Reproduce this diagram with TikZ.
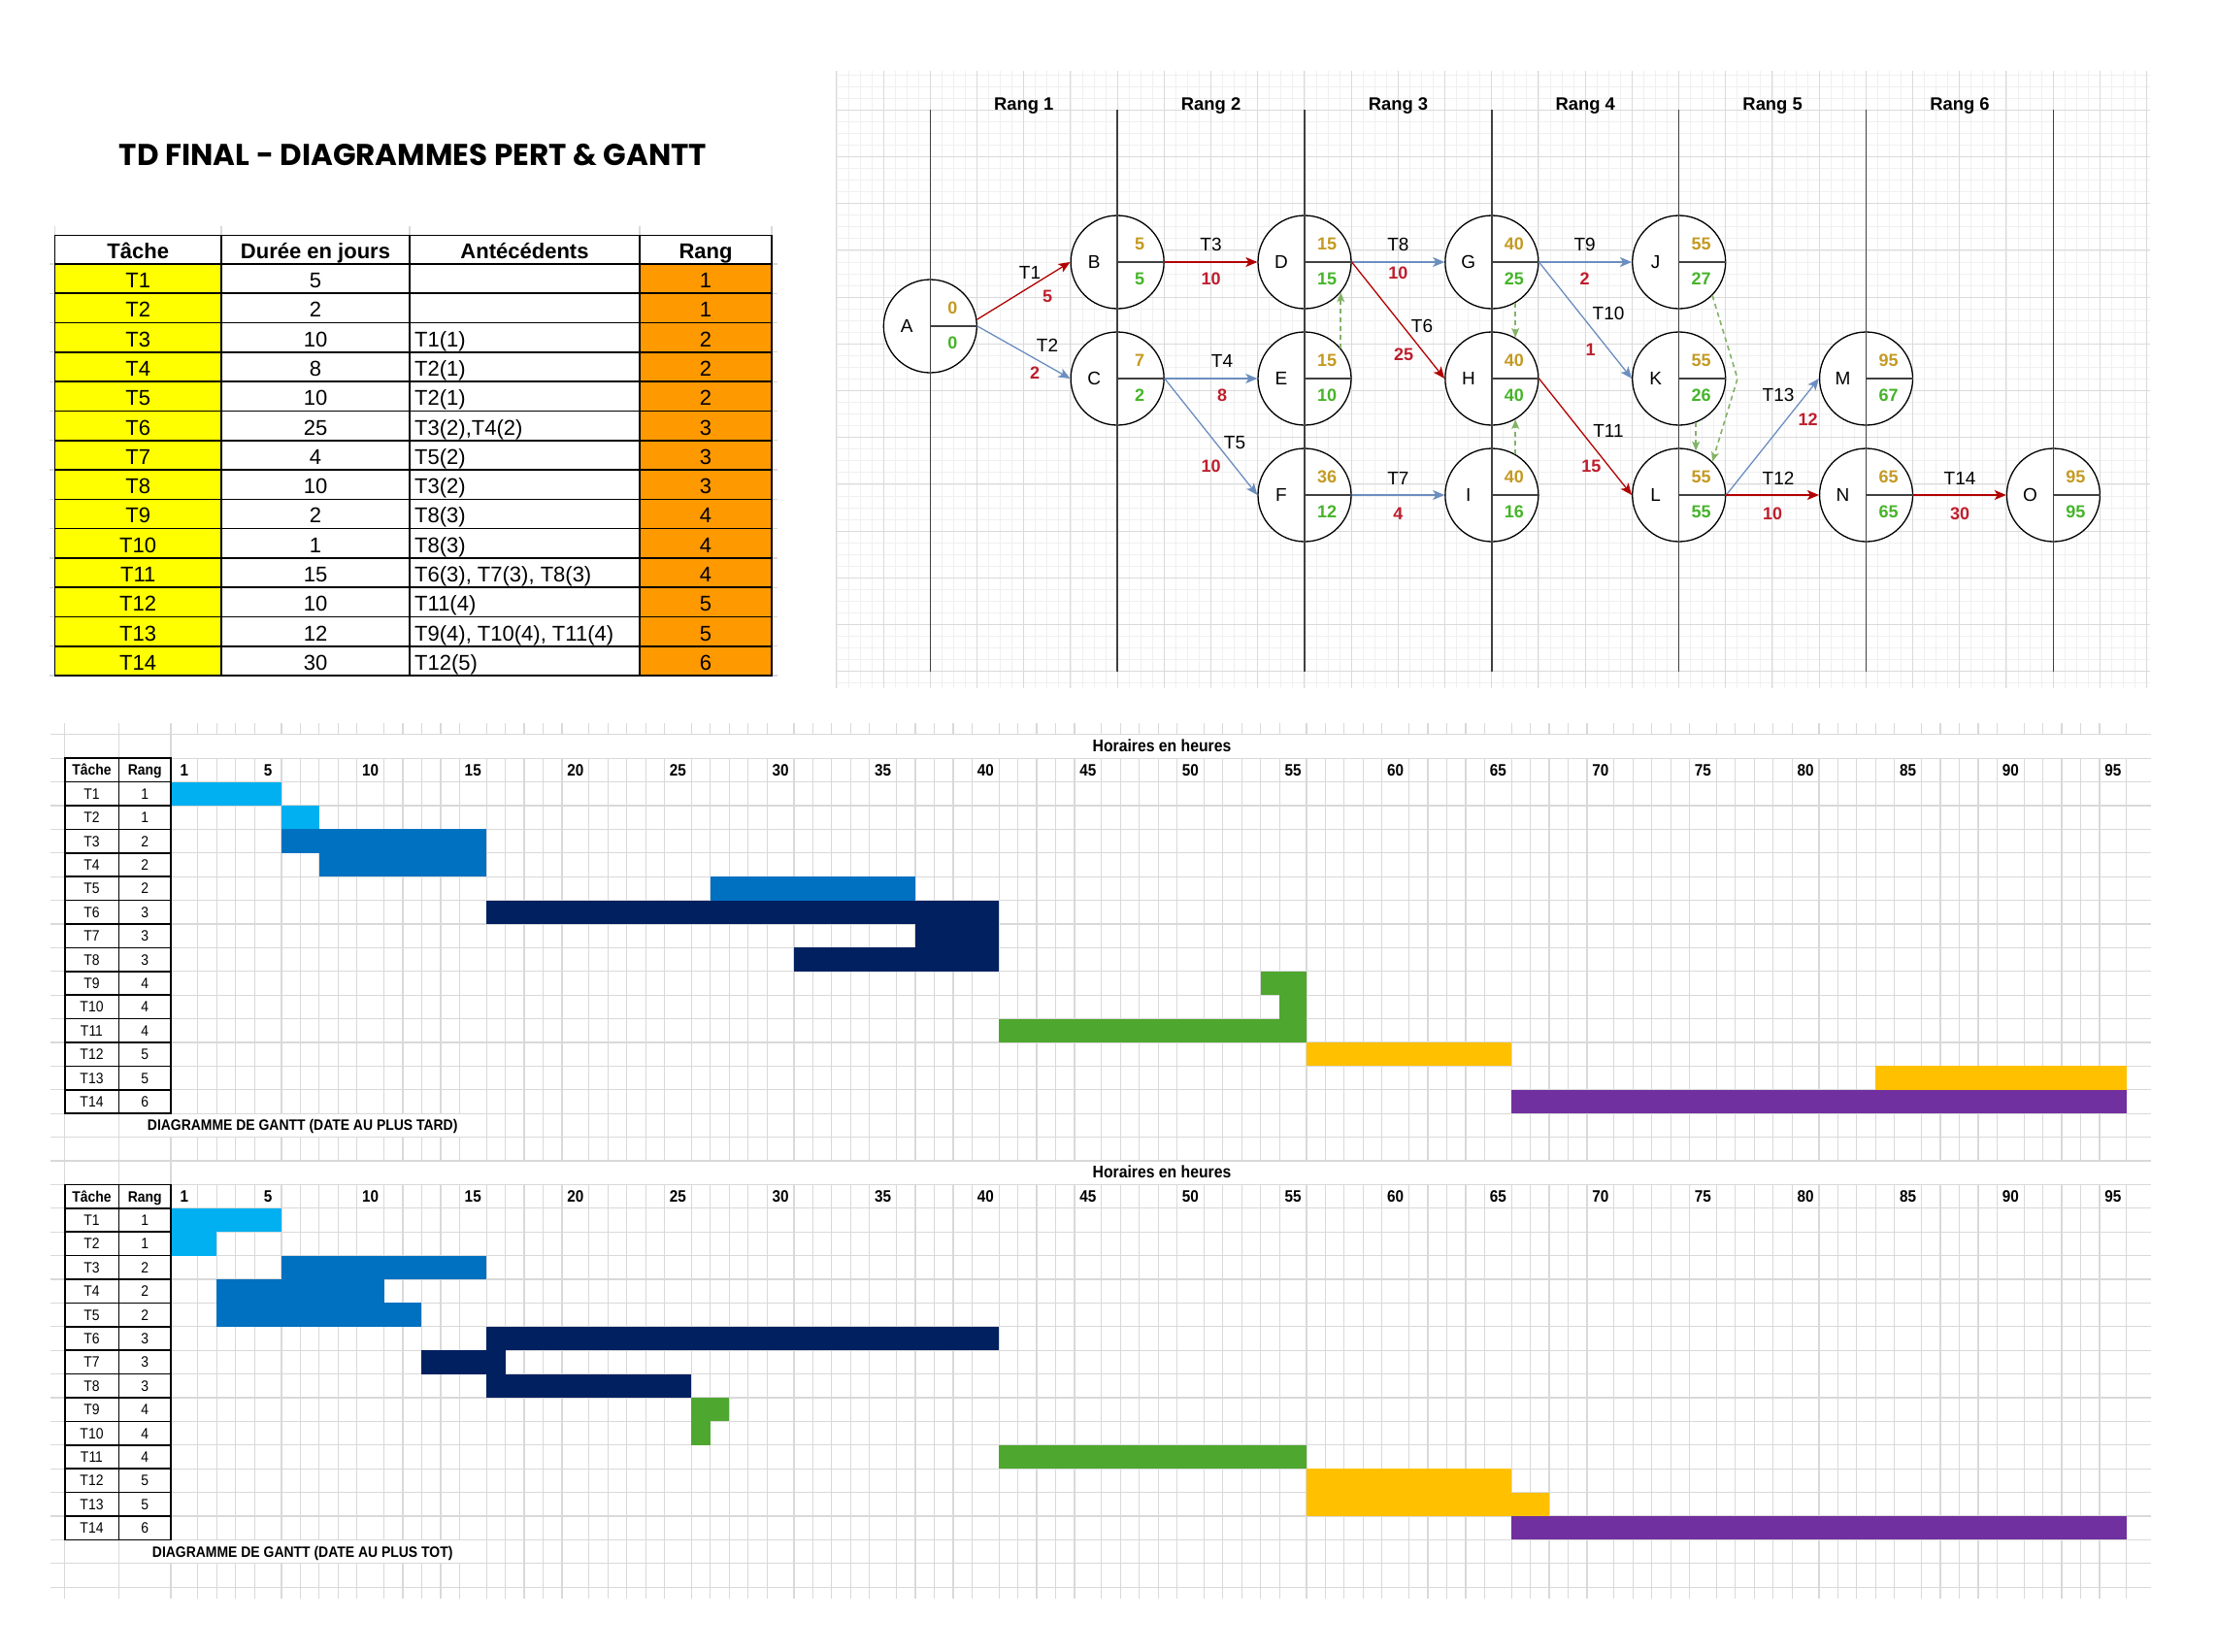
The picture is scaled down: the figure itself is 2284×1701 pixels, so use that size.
\documentclass[tikz,border=0pt]{standalone}
\usepackage{fontspec}
\setmainfont{Liberation Sans}
\newfontfamily\narrowfont{Liberation Sans}[FakeStretch=0.9]
\newfontfamily\titlefont{Poppins}
\usetikzlibrary{calc,arrows.meta}

\definecolor{cellyellow}{HTML}{FFFF00}
\definecolor{cellorange}{HTML}{FF9900}
\definecolor{critred}{HTML}{B20000}
\definecolor{slackblue}{HTML}{6C8EBF}
\definecolor{dashgreen}{HTML}{82B366}
\definecolor{lategold}{HTML}{C49A22}
\definecolor{earlygreen}{HTML}{46B42A}
\definecolor{durred}{HTML}{BE1E2D}
\definecolor{pertminorcol}{HTML}{F0F0F0}
\definecolor{pertmajorcol}{HTML}{DADADA}
\definecolor{xlgridcol}{HTML}{D9D9D9}
\definecolor{barsky}{HTML}{00B0F0}
\definecolor{barblue}{HTML}{0070C0}
\definecolor{barnavy}{HTML}{002060}
\definecolor{bargreen}{HTML}{4EA72E}
\definecolor{bargold}{HTML}{FFC000}
\definecolor{barpurple}{HTML}{7030A0}

\newcommand\dayx[2]{\pgfmathsetmacro#1{(#2)==0 ? 176 : 176+(#2)*19.45+(1+floor((#2)/5))*8.35}}
\newcommand\ganttbar[4]{\dayx\gxa{#1}\dayx\gxb{#2}%
  \fill[#4] (\gxa,{756.7+24.4*(#3)}) rectangle (\gxb,{756.7+24.4*(#3+1)});}

\tikzset{
  titletext/.style={font=\titlefont\bfseries\fontsize{31}{36}\selectfont, inner sep=0pt},
  tabtext/.style={font=\fontsize{22}{26}\selectfont, inner sep=0pt, text height=15.8pt, text depth=0pt},
  tabhead/.style={tabtext, font=\bfseries\fontsize{22}{26}\selectfont},
  tableline/.style={line width=1.6pt},
  xlgrid/.style={draw=xlgridcol, line width=1.2pt},
  pertminor/.style={draw=pertminorcol, line width=0.8pt},
  pertmajor/.style={draw=pertmajorcol, line width=0.9pt},
  rangline/.style={draw=black!75, line width=1.4pt},
  pertnode/.style={circle, draw, line width=1.3pt, fill=white, minimum size=96pt, inner sep=0pt},
  pertletter/.style={font=\fontsize{19}{22}\selectfont, inner sep=0pt, text height=13.6pt, text depth=0pt},
  pertlate/.style={font=\bfseries\fontsize{18}{21}\selectfont, text=lategold, inner sep=0pt, text height=12.9pt, text depth=0pt},
  pertearly/.style={pertlate, text=earlygreen},
  tasklab/.style={pertletter},
  durlab/.style={pertlate, text=durred},
  rangtitle/.style={font=\bfseries\fontsize{18.4}{22}\selectfont, inner sep=0pt},
  critedge/.style={draw=critred, line width=1.3pt, -{Stealth[length=12pt,width=10pt,inset=3pt]}},
  slackedge/.style={critedge, draw=slackblue},
  dashedge/.style={draw=dashgreen, line width=1.6pt, dash pattern=on 5pt off 4pt, -{Stealth[length=10pt,width=8pt,inset=2.5pt]}},
  ganttcell/.style={font=\narrowfont\fontsize{15.5}{18}\selectfont, inner sep=0pt, text height=11.2pt, text depth=0pt},
  ganttbold/.style={ganttcell, font=\narrowfont\bfseries\fontsize{15.5}{18}\selectfont},
  ganttday/.style={ganttcell, font=\narrowfont\bfseries\fontsize{17}{19}\selectfont, text height=12.2pt},
  gantttitle/.style={ganttcell, font=\narrowfont\bfseries\fontsize{17.5}{19}\selectfont}
}

\begin{document}
\begin{tikzpicture}[x=1pt,y=-1pt]
\fill[white] (0,0) rectangle (2284,1701);
\useasboundingbox (0,0) rectangle (2284,1701);

\node[titletext] (titre) at (425.5,159.5) {TD FINAL - DIAGRAMMES PERT \& GANTT};

\foreach \x in {56.4,228,422,659,795} \draw[xlgrid] (\x,233) -- (\x,242.4);
\foreach \k in {0,...,14} {
  \draw[xlgrid] (50.7,{272+30.29*\k}) -- (56.4,{272+30.29*\k});
  \draw[xlgrid] (795,{272+30.29*\k}) -- (801,{272+30.29*\k});
}
\fill[cellyellow] (56.4,272) rectangle (228,696);
\fill[cellorange] (659,272) rectangle (795,696);
\draw[tableline] (56.4,242.4) rectangle (795,696);
\foreach \x in {228,422,659} \draw[tableline] (\x,242.4) -- (\x,696);
\foreach \k in {0,...,13} \draw[tableline] (56.4,{272+30.29*\k}) -- (795,{272+30.29*\k});
\node[tabhead] (h-tache) at (142.2,258.5) {Tâche};
\node[tabhead] (h-duree) at (325,258.5) {Durée en jours};
\node[tabhead] (h-ante) at (540.5,258.5) {Antécédents};
\node[tabhead] (h-rang) at (727,258.5) {Rang};
\foreach \i/\d/\r in {1/5/1,2/2/1,3/10/2,4/8/2,5/10/2,6/25/3,7/4/3,8/10/3,9/2/4,10/1/4,11/15/4,12/10/5,13/12/5,14/30/6} {
  \pgfmathsetmacro\ry{272+30.29*(\i-0.5)+1.5}
  \node[tabtext] (tache\i) at (142.2,\ry) {T\i};
  \node[tabtext] (duree\i) at (325,\ry) {\d};
  \node[tabtext] (rangt\i) at (727,\ry) {\r};
}
\node[tabtext, anchor=west] (ante3) at (427,349.2) {T1(1)};
\node[tabtext, anchor=west] (ante4) at (427,379.5) {T2(1)};
\node[tabtext, anchor=west] (ante5) at (427,409.8) {T2(1)};
\node[tabtext, anchor=west] (ante6) at (427,440.1) {T3(2),T4(2)};
\node[tabtext, anchor=west] (ante7) at (427,470.4) {T5(2)};
\node[tabtext, anchor=west] (ante8) at (427,500.7) {T3(2)};
\node[tabtext, anchor=west] (ante9) at (427,531.0) {T8(3)};
\node[tabtext, anchor=west] (ante10) at (427,561.3) {T8(3)};
\node[tabtext, anchor=west] (ante11) at (427,591.7) {T6(3), T7(3), T8(3)};
\node[tabtext, anchor=west] (ante12) at (427,622.0) {T11(4)};
\node[tabtext, anchor=west] (ante13) at (427,652.3) {T9(4), T10(4), T11(4)};
\node[tabtext, anchor=west] (ante14) at (427,682.6) {T12(5)};

\foreach \i in {0,...,112} \draw[pertminor] ({861.9+12.05*\i},73) -- ++(0,636);
\foreach \j in {0,...,52} \draw[pertminor] (861.9,{77.15+12.05*\j}) -- (2215,{77.15+12.05*\j});
\foreach \i in {0,...,28} \draw[pertmajor] ({861.9+48.2*\i},73) -- ++(0,636);
\foreach \j in {0,...,12} \draw[pertmajor] (861.9,{113.3+48.2*\j}) -- (2215,{113.3+48.2*\j});

\foreach \n/\r/\y/\late/\early in {A/0/336/0/0, B/1/270/5/5, C/1/390/7/2, D/2/270/15/15, E/2/390/15/10, F/2/510/36/12, G/3/270/40/25, H/3/390/40/40, I/3/510/40/16, J/4/270/55/27, K/4/390/55/26, L/4/510/55/55, M/5/390/95/67, N/5/510/65/65, O/6/510/95/95} {
  \node[pertnode] (\n) at ({958.3+192.85*\r},\y) {};
  \draw[rangline] (\n.center) -- (\n.east);
  \node[pertletter] (\n-lettre) at ($(\n)+(-24,0)$) {\n};
  \node[pertlate] (\n-tard) at ($(\n)+(23,-18.5)$) {\late};
  \node[pertearly] (\n-tot) at ($(\n)+(23,17.5)$) {\early};
}
\foreach \k in {0,...,6} \draw[rangline] ({958.3+192.85*\k},113.3) -- ++(0,578.7);
\foreach \k in {1,...,6} \node[rangtitle, anchor=base] (rang\k) at ({958.3+192.85*(\k-0.5)},113.3) {Rang \k};

\draw[critedge] (A.8) -- (B.west);
\draw[slackedge] (A.east) -- (C.west);
\draw[critedge] (B.east) -- (D.west);
\draw[slackedge] (C.east) -- (E.west);
\draw[slackedge] (C.east) -- (F.west);
\draw[slackedge] (D.east) -- (G.west);
\draw[critedge] (D.east) -- (H.west);
\draw[slackedge] (F.east) -- (I.west);
\draw[slackedge] (G.east) -- (J.west);
\draw[slackedge] (G.east) -- (K.west);
\draw[critedge] (H.east) -- (L.west);
\draw[slackedge] (L.east) -- (M.west);
\draw[critedge] (L.east) -- (N.west);
\draw[critedge] (N.east) -- (O.west);
\draw[dashedge] (E.40) -- (D.-40);
\draw[dashedge] (G.-60) -- (H.60);
\draw[dashedge] (I.60) -- (H.-60);
\draw[dashedge] (K.-69) -- (L.69);
\coordinate (jlbend) at (1790,390);
\draw[dashedge] (J.-45) -- (jlbend) -- (L.45);

\foreach \t/\x/\y/\d/\u/\v in {T1/1061/281/5/1079/305, T2/1079/356/2/1066/384, T3/1247.5/252/10/1247.5/287.5, T4/1259/372/8/1259/407, T5/1272/456/10/1247.5/480, T6/1465/336/25/1446/365, T7/1440.4/492.4/4/1440.4/529, T8/1440.4/252/10/1440.4/281.4, T9/1632.7/252/2/1632.7/287.5, T10/1657/323/1/1638.5/360, T11/1657/443.5/15/1639.4/480, T12/1832/492.4/10/1826/529, T13/1832/407/12/1862.6/432.4, T14/2019/492.4/30/2019/529} {
  \node[tasklab] (\t) at (\x,\y) {\t};
  \node[durlab] (\t-duree) at (\u,\v) {\d};
}

\foreach \b in {0,...,95} {\dayx\gx{\b}\draw[xlgrid] (\gx,745) -- (\gx,1647);}
\foreach \x in {66.7,122.3} \draw[xlgrid] (\x,745) -- (\x,1647);
\foreach \g in {0,18} {
  \fill[white] (176.8,{756.7+24.4*\g}) rectangle (2216,{756.7+24.4*(\g+1)});
  \fill[white] (123.1,{756.7+24.4*(\g+16)}) rectangle (500.3,{756.7+24.4*(\g+17)});
}
\foreach \k in {0,...,36} \draw[xlgrid] (51.7,{756.7+24.4*\k}) -- (2215.6,{756.7+24.4*\k});

\foreach \s/\e/\i/\c in {0/5/1/barsky, 5/7/2/barsky, 5/15/3/barblue, 7/15/4/barblue, 26/36/5/barblue, 15/40/6/barnavy, 36/40/7/barnavy, 30/40/8/barnavy, 53/55/9/bargreen, 54/55/10/bargreen, 40/55/11/bargreen, 55/65/12/bargold, 83/95/13/bargold, 65/95/14/barpurple}
  \ganttbar{\s}{\e}{\i+1}{\c};
\foreach \s/\e/\i/\c in {0/5/1/barsky, 0/2/2/barsky, 5/15/3/barblue, 2/10/4/barblue, 2/12/5/barblue, 15/40/6/barnavy, 12/16/7/barnavy, 15/25/8/barnavy, 25/27/9/bargreen, 25/26/10/bargreen, 40/55/11/bargreen, 55/65/12/bargold, 55/67/13/bargold, 65/95/14/barpurple}
  \ganttbar{\s}{\e}{\i+19}{\c};

\foreach \g in {0,1} {
  \pgfmathsetmacro\gy{756.7+439.2*\g}
  \draw[tableline] (66.7,{\gy+24.4}) rectangle (176,{\gy+24.4*16});
  \draw[tableline] (122.3,{\gy+24.4}) -- (122.3,{\gy+24.4*16});
  \foreach \k in {2,...,15} \draw[tableline] (66.7,{\gy+24.4*\k}) -- (176,{\gy+24.4*\k});
  \node[ganttbold] (g\g-tache) at (94.5,{\gy+24.4*1.5}) {Tâche};
  \node[ganttbold] (g\g-rang) at (149.2,{\gy+24.4*1.5}) {Rang};
  \node[gantttitle] (g\g-horaires) at (1197,{\gy+12.2}) {Horaires en heures};
  \foreach \i/\r in {1/1,2/1,3/2,4/2,5/2,6/3,7/3,8/3,9/4,10/4,11/4,12/5,13/5,14/6} {
    \node[ganttcell] (g\g-t\i) at (94.5,{\gy+24.4*(\i+1.5)}) {T\i};
    \node[ganttcell] (g\g-r\i) at (149.2,{\gy+24.4*(\i+1.5)}) {\r};
  }
  \foreach \d in {1,5,10,15,20,25,30,35,40,45,50,55,60,65,70,75,80,85,90,95} {
    \dayx\xl{\d-1}\dayx\xr{\d}
    \node[ganttday] (g\g-jour\d) at ({(\xl+\xr)/2},{\gy+24.4*1.5}) {\d};
  }
}
\node[ganttbold] (legende-tard) at (311.7,1159.3) {DIAGRAMME DE GANTT (DATE AU PLUS TARD)};
\node[ganttbold] (legende-tot) at (311.7,1598.5) {DIAGRAMME DE GANTT (DATE AU PLUS TOT)};
\end{tikzpicture}
\end{document}
